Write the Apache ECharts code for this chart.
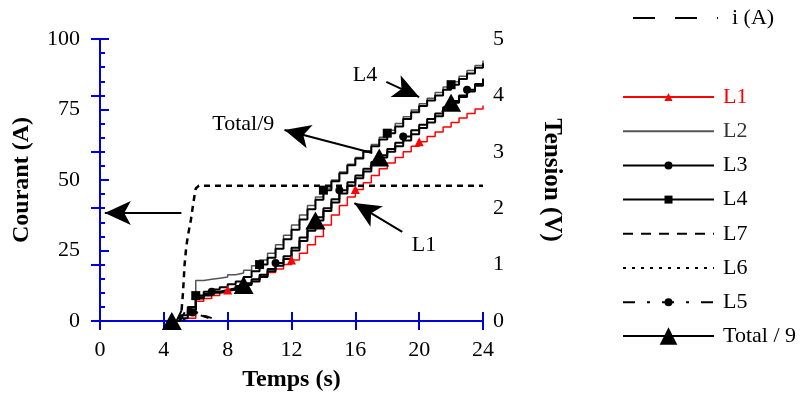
<!DOCTYPE html>
<html><head><meta charset="utf-8">
<script src="https://cdn.jsdelivr.net/npm/echarts@6/dist/echarts.min.js"></script>
<style>html,body{margin:0;padding:0;background:#fff}#c{width:804px;height:394px}</style>
</head><body><div id="c"></div>
<script>
// ---- data ----
const times = [4.5,5,5.5,6,6.5,7,7.5,8,8.5,9,9.5,10,10.5,11,11.5,12,12.5,13,13.5,14,14.5,15,15.5,16,16.5,17,17.5,18,18.5,19,19.5,20,20.5,21,21.5,22,22.5,23,23.5,24];
const L1 = [null,null,0.05,0.35,0.4,0.45,0.5,0.55,0.6,0.66,0.73,0.8,0.86,0.92,1.0,1.08,1.2,1.35,1.5,1.7,1.88,2.05,2.2,2.33,2.45,2.58,2.7,2.8,2.9,3.0,3.1,3.18,3.27,3.35,3.44,3.52,3.6,3.68,3.76,3.82];
const L2 = [null,null,0.1,0.72,0.74,0.76,0.78,0.82,0.85,0.9,0.98,1.08,1.2,1.35,1.52,1.7,1.88,2.05,2.2,2.36,2.5,2.64,2.78,2.9,3.02,3.13,3.26,3.38,3.5,3.62,3.74,3.85,3.95,4.05,4.15,4.24,4.34,4.44,4.53,4.62];
const L3 = [null,0.05,0.2,0.42,0.48,0.52,0.55,0.58,0.62,0.67,0.74,0.82,0.92,1.03,1.15,1.3,1.48,1.66,1.84,2.0,2.16,2.32,2.46,2.58,2.7,2.82,2.94,3.05,3.16,3.27,3.38,3.48,3.58,3.68,3.79,3.9,4.0,4.1,4.2,4.3];
const L4 = [null,null,0.2,0.45,0.52,0.56,0.6,0.65,0.7,0.78,0.88,1.0,1.12,1.28,1.45,1.62,1.8,1.98,2.15,2.32,2.48,2.62,2.76,2.88,3.0,3.1,3.22,3.33,3.45,3.58,3.7,3.81,3.91,4.0,4.1,4.19,4.29,4.39,4.49,4.57];
const Total9 = [0,0.1,0.25,0.4,0.45,0.5,0.53,0.56,0.6,0.64,0.7,0.78,0.88,0.98,1.1,1.25,1.42,1.6,1.78,1.95,2.1,2.26,2.4,2.53,2.65,2.77,2.9,3.0,3.1,3.2,3.31,3.42,3.52,3.63,3.75,3.87,3.97,4.07,4.17,4.25];
const L7t = [5,5.5,6,6.5,7];       const L7 = [0,0.25,0.15,0.1,0.05];
const L6t = [5.2,5.8,6.4,7];       const L6 = [0,0.2,0.1,0.05];
const L5t = [4.8,5.3,5.8,6.3,6.8]; const L5 = [0,0.3,0.15,0.1,0.05];
const iT = [5.0,5.1,5.2,5.3,5.4,5.5,5.7,5.85,6.0,6.2,24];
const iA = [0,3,10,20,26,30,36,42,47,48,48];
const markL1 = [8,12,16,20];
const markL3 = [7,11,15,19,23];
const markL4 = [6,10,14,18,22];
const markTot = [4.5,9,13.5,17.5,22];
const markL5 = [5.8];
const xTicks = [0,4,8,12,16,20,24];
const yLeftTicks = [0,25,50,75,100];
const yRightTicks = [0,1,2,3,4,5];
// annotation arrows (time, current A) and labels
const arrows = [[[5.1,38.3],[0.3,38.3]],[[17.06,59.6],[11.56,67.7]],[[17.94,84.8],[20.0,79.4]],[[18.94,31.6],[15.94,41.8]]];
const notes = [['Total/9',8.98,69.8],['L4',16.6,87.2],['L1',20.3,27]];

// ---- build ----
function build(t, v, marks) {
  const out = [];
  t.forEach((x, i) => {
    if (v[i] == null) return;
    const it = { value: [x, v[i]] };
    if (!marks || marks.indexOf(x) < 0) it.symbol = 'none';
    out.push(it);
  });
  return out;
}
const FONT = 'Liberation Serif';
const BLUE = '#0000dd';
const chart = echarts.init(document.getElementById('c'), null, {renderer: 'canvas'});
const hidden = {color: 'rgba(0,0,0,0)', borderWidth: 0};
const legText = {fontFamily: FONT, fontSize: 22, color: '#000', padding: [0,0,0,4]};
chart.setOption({
  animation: false,
  textStyle: {fontFamily: FONT, color: '#000'},
  grid: {left: 100, right: 321, top: 39, bottom: 73, containLabel: false, outerBoundsMode: 'none'},
  legend: [
    {data: [{name: 'i (A)', lineStyle: {type: [22, 20], width: 2, color: '#000'}, itemStyle: hidden}],
     left: 632, top: 7, padding: 0, itemWidth: 85, itemHeight: 10, selectedMode: false,
     textStyle: {fontFamily: FONT, fontSize: 22, color: '#000', padding: [0,0,0,9]}},
    {data: [{name: 'L1', textStyle: {color: '#ff0000'}}, {name: 'L2', textStyle: {color: '#333'}, itemStyle: hidden},
            'L3', 'L4', {name: 'L7', itemStyle: hidden}, {name: 'L6', itemStyle: hidden}, 'L5'],
     orient: 'vertical', left: 622, top: 86, padding: 0, itemWidth: 91, itemHeight: 10, itemGap: 12.2, selectedMode: false,
     textStyle: legText},
    {data: ['Total / 9'], left: 622, top: 325, padding: 0, itemWidth: 91, itemHeight: 22, selectedMode: false,
     textStyle: legText}
  ],
  xAxis: [
    {type: 'value', min: xTicks[0], max: xTicks[xTicks.length-1], interval: 4, position: 'bottom',
     axisLine: {lineStyle: {color: BLUE, width: 2}}, axisTick: {inside: true, length: 9, lineStyle: {color: BLUE, width: 2}},
     axisLabel: {fontFamily: FONT, fontSize: 22, color: '#000', margin: 18}, splitLine: {show: false},
     name: 'Temps (s)', nameLocation: 'middle', nameGap: 47,
     nameTextStyle: {fontFamily: FONT, fontSize: 24, fontWeight: 'bold', color: '#000'}},
    {type: 'value', min: xTicks[0], max: xTicks[xTicks.length-1], interval: 4, position: 'top',
     axisLine: {lineStyle: {color: BLUE, width: 2}}, axisTick: {inside: true, length: 9, lineStyle: {color: BLUE, width: 2}},
     axisLabel: {show: false}, splitLine: {show: false}}
  ],
  yAxis: [
    {type: 'value', min: yLeftTicks[0], max: yLeftTicks[yLeftTicks.length-1], interval: 25, position: 'left',
     axisLine: {show: true, lineStyle: {color: BLUE, width: 2}}, axisTick: {show: true, inside: true, length: 9, lineStyle: {color: BLUE, width: 2}},
     minorTick: {show: true, splitNumber: 5, length: 5, lineStyle: {color: BLUE, width: 2}},
     axisLabel: {fontFamily: FONT, fontSize: 22, color: '#000', margin: 20}, splitLine: {show: false},
     name: 'Courant (A)', nameLocation: 'middle', nameGap: 66, nameRotate: 90,
     nameTextStyle: {fontFamily: FONT, fontSize: 24, fontWeight: 'bold', color: '#000'}},
    {type: 'value', min: yRightTicks[0], max: yRightTicks[yRightTicks.length-1], interval: 1, position: 'right',
     axisLine: {show: true, lineStyle: {color: BLUE, width: 2}}, axisTick: {show: true, inside: true, length: 9, lineStyle: {color: BLUE, width: 2}},
     axisLabel: {fontFamily: FONT, fontSize: 22, color: '#000', margin: 10}, splitLine: {show: false},
     name: 'Tension (V)', nameLocation: 'middle', nameGap: 56, nameRotate: -90,
     nameTextStyle: {fontFamily: FONT, fontSize: 25, fontWeight: 'bold', color: '#000'}}
  ],
  series: [
    {name: 'L2', type: 'line', yAxisIndex: 1, step: 'end', symbol: 'none', data: build(times, L2),
     lineStyle: {color: '#555', width: 1.5}, itemStyle: {color: '#555'}},
    {name: 'L1', type: 'line', yAxisIndex: 1, step: 'end', symbol: 'triangle', symbolSize: 9, data: build(times, L1, markL1),
     lineStyle: {color: '#ff0000', width: 1.5}, itemStyle: {color: '#ff0000'}},
    {name: 'L4', type: 'line', yAxisIndex: 1, step: 'end', symbol: 'rect', symbolSize: 9, data: build(times, L4, markL4),
     lineStyle: {color: '#000', width: 2}, itemStyle: {color: '#000'}},
    {name: 'L3', type: 'line', yAxisIndex: 1, step: 'end', symbol: 'circle', symbolSize: 8, data: build(times, L3, markL3),
     lineStyle: {color: '#000', width: 2}, itemStyle: {color: '#000'}},
    {name: 'L7', type: 'line', yAxisIndex: 1, symbol: 'none', data: build(L7t, L7),
     lineStyle: {color: '#000', width: 2, type: [10, 8]}, itemStyle: {color: '#000'}},
    {name: 'L6', type: 'line', yAxisIndex: 1, symbol: 'none', data: build(L6t, L6),
     lineStyle: {color: '#000', width: 2, type: [3, 6]}, itemStyle: {color: '#000'}},
    {name: 'L5', type: 'line', yAxisIndex: 1, symbol: 'circle', symbolSize: 8, data: build(L5t, L5, markL5),
     lineStyle: {color: '#000', width: 2, type: [12, 12, 3, 12]}, itemStyle: {color: '#000'}},
    {name: 'Total / 9', type: 'line', yAxisIndex: 1, step: 'end', symbol: 'triangle', symbolSize: [20, 18], data: build(times, Total9, markTot),
     lineStyle: {color: '#000', width: 2}, itemStyle: {color: '#000'}},
    {name: 'i (A)', type: 'line', yAxisIndex: 0, symbol: 'none', data: build(iT, iA),
     lineStyle: {color: '#000', width: 2.5, type: [6, 5]}, itemStyle: {color: '#000'},
     markLine: {silent: true, animation: false, symbol: ['none', 'arrow'], symbolSize: [18, 26],
       lineStyle: {color: '#000', width: 2, type: 'solid'}, itemStyle: {color: '#000'}, label: {show: false},
       data: arrows.map(a => [{coord: a[0]}, {coord: a[1]}])},
     markPoint: {silent: true, animation: false, symbol: 'rect', symbolSize: 1, itemStyle: {color: 'rgba(0,0,0,0)'},
       label: {show: true, position: 'inside', formatter: '{b}', fontFamily: FONT, fontSize: 22, color: '#000'},
       data: notes.map(n => ({name: n[0], coord: [n[1], n[2]]}))}}
  ]
});
</script></body></html>
